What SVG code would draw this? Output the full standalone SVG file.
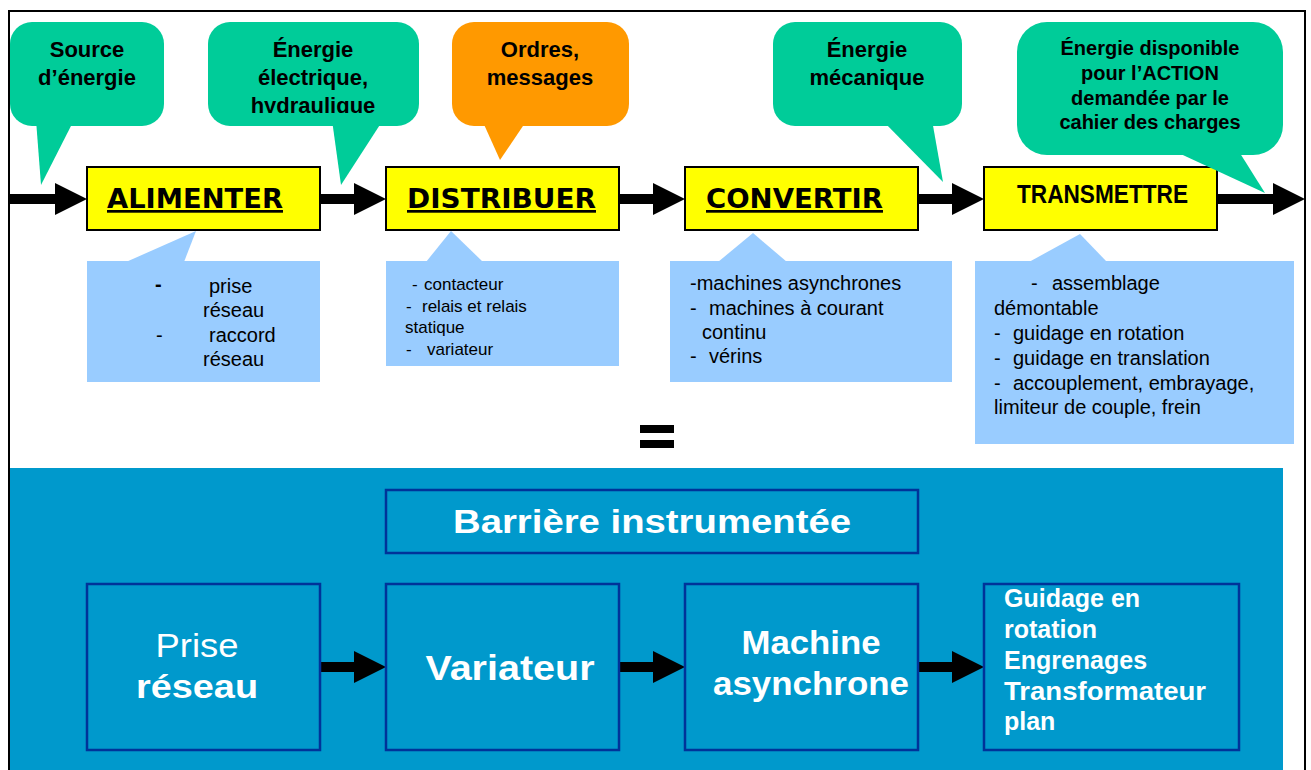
<svg xmlns="http://www.w3.org/2000/svg" width="1311" height="770" viewBox="0 0 1311 770">
<defs>
<style>
.bg{fill:#ffffff}
.green{fill:#00CC99}
.orange{fill:#FF9900}
.yellow{fill:#FFFF00;stroke:#000;stroke-width:2}
.lblue{fill:#99CCFF}
.ct{font-family:"Liberation Sans",Arial,sans-serif;font-weight:bold;font-size:22px;fill:#000;text-anchor:middle}
.ct2{font-family:"Liberation Sans",Arial,sans-serif;font-weight:bold;font-size:20px;fill:#000;text-anchor:middle}
.ft{font-family:"DejaVu Sans",Verdana,sans-serif;font-weight:bold;font-size:27px;fill:#000;text-decoration:underline}
.lt{font-family:"Liberation Sans",Arial,sans-serif;font-size:20px;fill:#000}
.lts{font-family:"Liberation Sans",Arial,sans-serif;font-size:17px;fill:#000}
.bbox{fill:#0099CC;stroke:#003399;stroke-width:2.5}
.wt{font-family:"Liberation Sans",Arial,sans-serif;font-weight:bold;fill:#fff;text-anchor:middle}
.wtn{font-family:"Liberation Sans",Arial,sans-serif;font-weight:normal;fill:#fff;text-anchor:middle}
.wtl{font-family:"Liberation Sans",Arial,sans-serif;font-weight:bold;font-size:25px;fill:#fff}
.arrow{fill:#000}
</style>
<clipPath id="clipHyd"><rect x="208" y="22" width="211" height="91"/></clipPath>
</defs>
<rect class="bg" x="0" y="0" width="1311" height="770"/>

<!-- bottom blue area -->
<rect x="9" y="468" width="1274" height="302" fill="#0099CC"/>

<!-- connectors -->
<g id="connectors">
<polygon class="arrow" points="9,194 55,194 55,183 87,199 55,215 55,204 9,204"/>
<polygon class="arrow" points="320,194 354,194 354,183 386,199 354,215 354,204 320,204"/>
<polygon class="arrow" points="619,194 653,194 653,183 685,199 653,215 653,204 619,204"/>
<polygon class="arrow" points="918,194 952,194 952,183 984,199 952,215 952,204 918,204"/>
<polygon class="arrow" points="1217,194 1273,194 1273,183 1305,199 1273,215 1273,204 1217,204"/>
<polygon class="arrow" points="320,662 354,662 354,651 386,667 354,683 354,672 320,672"/>
<polygon class="arrow" points="619,662 653,662 653,651 685,667 653,683 653,672 619,672"/>
<polygon class="arrow" points="918,662 952,662 952,651 984,667 952,683 952,672 918,672"/>
</g>

<!-- function boxes -->
<g id="alimenter">
<rect class="yellow" x="87" y="167" width="233" height="63"/>
<text class="ft" x="107" y="208" textLength="176" lengthAdjust="spacingAndGlyphs">ALIMENTER</text>
</g>
<g id="distribuer">
<rect class="yellow" x="386" y="167" width="233" height="63"/>
<text class="ft" x="407" y="208" textLength="189" lengthAdjust="spacingAndGlyphs">DISTRIBUER</text>
</g>
<g id="convertir">
<rect class="yellow" x="685" y="167" width="233" height="63"/>
<text class="ft" x="706" y="208" textLength="177" lengthAdjust="spacingAndGlyphs">CONVERTIR</text>
</g>
<g id="transmettre">
<rect class="yellow" x="984" y="167" width="233" height="63"/>
<text x="1017" y="203" font-family="Liberation Sans, Arial, sans-serif" font-weight="bold" font-size="25" textLength="171" lengthAdjust="spacingAndGlyphs">TRANSMETTRE</text>
</g>

<!-- top callouts -->
<g id="source">
<rect class="green" x="10" y="22" width="154" height="104" rx="22"/>
<polygon class="green" points="36,120 74,120 41,185"/>
<text class="ct" x="87" y="57">Source</text>
<text class="ct" x="87" y="85">d’énergie</text>
</g>
<g id="energie-electrique">
<rect class="green" x="208" y="22" width="211" height="104" rx="22"/>
<polygon class="green" points="332,120 383,120 341,185"/>
<g clip-path="url(#clipHyd)">
<text class="ct" x="313" y="57">Énergie</text>
<text class="ct" x="313" y="85">électrique,</text>
<text class="ct" x="313" y="113">hydraulique</text>
</g>
</g>
<g id="ordres">
<rect class="orange" x="452" y="22" width="177" height="104" rx="22"/>
<polygon class="orange" points="482,120 527,120 500,160"/>
<text class="ct" x="540" y="57">Ordres,</text>
<text class="ct" x="540" y="85">messages</text>
</g>
<g id="energie-mecanique">
<rect class="green" x="773" y="22" width="189" height="104" rx="22"/>
<polygon class="green" points="882,120 932,120 943,182"/>
<text class="ct" x="867" y="57">Énergie</text>
<text class="ct" x="867" y="85">mécanique</text>
</g>
<g id="energie-disponible">
<rect class="green" x="1017" y="22" width="266" height="133" rx="30"/>
<polygon class="green" points="1172,150 1238,150 1265,193"/>
<text class="ct2" x="1150" y="55">Énergie disponible</text>
<text class="ct2" x="1150" y="80">pour l’ACTION</text>
<text class="ct2" x="1150" y="105">demandée par le</text>
<text class="ct2" x="1150" y="129">cahier des charges</text>
</g>

<!-- bottom callouts -->
<g id="ex-alimenter">
<rect class="lblue" x="87" y="261" width="233" height="121"/>
<polygon class="lblue" points="126,262 184,262 196,231"/>
<text class="lt" x="155" y="291" style="font-weight:bold">-</text>
<text class="lt" x="209" y="293">prise</text>
<text class="lt" x="203" y="317">réseau</text>
<text class="lt" x="156" y="342">-</text>
<text class="lt" x="209" y="342">raccord</text>
<text class="lt" x="203" y="366">réseau</text>
</g>
<g id="ex-distribuer">
<rect class="lblue" x="386" y="261" width="233" height="105"/>
<polygon class="lblue" points="426,262 483,262 451,231"/>
<text class="lts" x="412" y="290">-</text>
<text class="lts" x="424" y="290">contacteur</text>
<text class="lts" x="406" y="312">-</text>
<text class="lts" x="422" y="312">relais et relais</text>
<text class="lts" x="405" y="333">statique</text>
<text class="lts" x="406" y="355">-</text>
<text class="lts" x="427" y="355">variateur</text>
</g>
<g id="ex-convertir">
<rect class="lblue" x="670" y="261" width="282" height="121"/>
<polygon class="lblue" points="718,262 787,262 753,233"/>
<text class="lt" x="690" y="290">-machines asynchrones</text>
<text class="lt" x="690" y="315">-</text>
<text class="lt" x="709" y="315">machines à courant</text>
<text class="lt" x="702" y="339">continu</text>
<text class="lt" x="690" y="363">-</text>
<text class="lt" x="709" y="363">vérins</text>
</g>
<g id="ex-transmettre">
<rect class="lblue" x="975" y="261" width="319" height="183"/>
<polygon class="lblue" points="1029,262 1107,262 1080,234"/>
<text class="lt" x="1031" y="290">-</text>
<text class="lt" x="1052" y="290">assemblage</text>
<text class="lt" x="994" y="315">démontable</text>
<text class="lt" x="994" y="340">-</text>
<text class="lt" x="1013" y="340">guidage en rotation</text>
<text class="lt" x="994" y="365">-</text>
<text class="lt" x="1013" y="365">guidage en translation</text>
<text class="lt" x="994" y="390">-</text>
<text class="lt" x="1013" y="390">accouplement, embrayage,</text>
<text class="lt" x="994" y="414">limiteur de couple, frein</text>
</g>

<!-- equals sign -->
<g id="equals">
<rect x="640" y="425" width="34" height="8" fill="#000"/>
<rect x="640" y="440" width="34" height="8" fill="#000"/>
</g>

<!-- bottom section -->
<g id="barriere">
<rect class="bbox" x="386" y="490" width="532" height="63"/>
<text class="wt" x="652" y="533" font-size="34" textLength="398" lengthAdjust="spacingAndGlyphs">Barrière instrumentée</text>
</g>
<g id="prise-reseau">
<rect class="bbox" x="87" y="584" width="233" height="166"/>
<text class="wtn" x="197" y="657" font-size="33" textLength="83" lengthAdjust="spacingAndGlyphs">Prise</text>
<text class="wt" x="197" y="698" font-size="33" textLength="122" lengthAdjust="spacingAndGlyphs">réseau</text>
</g>
<g id="variateur">
<rect class="bbox" x="386" y="584" width="233" height="166"/>
<text class="wt" x="510" y="680" font-size="35" textLength="169" lengthAdjust="spacingAndGlyphs">Variateur</text>
</g>
<g id="machine">
<rect class="bbox" x="685" y="584" width="233" height="166"/>
<text class="wt" x="811" y="654" font-size="33" textLength="139" lengthAdjust="spacingAndGlyphs">Machine</text>
<text class="wt" x="811" y="695" font-size="33" textLength="196" lengthAdjust="spacingAndGlyphs">asynchrone</text>
</g>
<g id="transmission">
<rect class="bbox" x="984" y="584" width="255" height="166"/>
<text class="wtl" x="1004" y="607">Guidage en</text>
<text class="wtl" x="1004" y="638">rotation</text>
<text class="wtl" x="1004" y="669">Engrenages</text>
<text class="wtl" x="1004" y="700" textLength="202" lengthAdjust="spacingAndGlyphs">Transformateur</text>
<text class="wtl" x="1004" y="730">plan</text>
</g>

<!-- frame -->
<rect x="9" y="11" width="1296" height="770" fill="none" stroke="#000" stroke-width="2"/>
</svg>
